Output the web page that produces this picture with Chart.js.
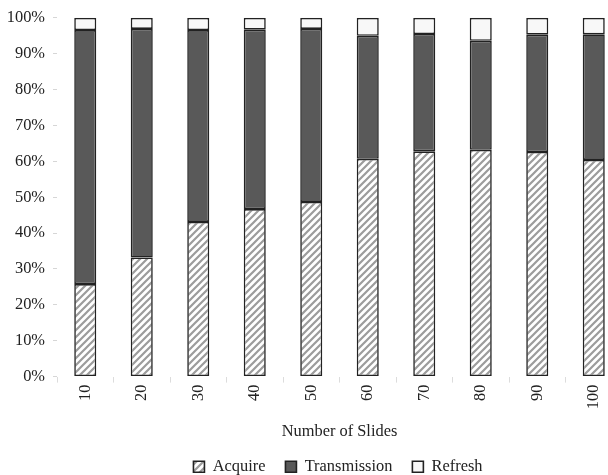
<!DOCTYPE html>
<html>
<head>
  <title>Number of Slides</title>
  <meta charset="utf-8" />
  <script src="https://cdn.jsdelivr.net/npm/chart.js"></script>
  <style>
    body {
      margin: 0;
      padding: 0;
      background: #fff;
      overflow: hidden;
    }
    canvas {
      display: block;
    }
  </style>
</head>
<body>
  <canvas id="chart" width="676" height="475"></canvas>

  <script>
    const slides = ["10", "20", "30", "40", "50", "60", "70", "80", "90", "100"];
    const acquire = [25.8, 33.2, 43.1, 46.7, 48.7, 60.7, 62.8, 63.2, 62.6, 60.4];
    const transmission = [70.8, 63.7, 53.5, 50.0, 48.2, 34.3, 32.7, 30.4, 32.7, 35.0];
    const refresh = [3.4, 3.1, 3.4, 3.3, 3.1, 5.0, 4.5, 6.4, 4.7, 4.6];

    // diagonal hatch for the Acquire series
    function hatch() {
      const n = 7;
      const c = document.createElement('canvas');
      c.width = n;
      c.height = n;
      const g = c.getContext('2d');
      g.fillStyle = '#fff';
      g.fillRect(0, 0, n, n);
      g.strokeStyle = '#9c9c9c';
      g.lineWidth = 2.2;
      g.beginPath();
      g.moveTo(0, n); g.lineTo(n, 0);
      g.moveTo(-2, 2); g.lineTo(2, -2);
      g.moveTo(n - 2, n + 2); g.lineTo(n + 2, n - 2);
      g.stroke();
      return g.createPattern(c, 'repeat');
    }

    const font = { family: "'Liberation Serif', 'Times New Roman', serif", size: 16.4 };
    const ctx = document.getElementById('chart').getContext('2d');

    const bar = {
      borderColor: '#222',
      borderWidth: 1.6,
      borderSkipped: false,
      categoryPercentage: 1,
      barPercentage: 0.39
    };

    new Chart(ctx, {
      type: 'bar',
      data: {
        labels: slides,
        datasets: [
          Object.assign({ label: 'Acquire', data: acquire, backgroundColor: hatch() }, bar),
          Object.assign({ label: 'Transmission', data: transmission, backgroundColor: '#595959' }, bar),
          Object.assign({ label: 'Refresh', data: refresh, backgroundColor: '#f8f8f8' }, bar)
        ]
      },
      options: {
        responsive: false,
        animation: false,
        layout: { padding: { top: 17, right: 0, bottom: -10, left: 0 } },
        plugins: {
          tooltip: { enabled: false },
          legend: {
            position: 'bottom',
            labels: {
              font: font,
              color: '#222',
              boxWidth: 11,
              boxHeight: 11,
              padding: 20
            }
          }
        },
        scales: {
          x: {
            stacked: true,
            border: { display: false },
            grid: { drawOnChartArea: false, tickLength: 6, color: '#dcdcdc' },
            ticks: { font: font, color: '#222', minRotation: 90, maxRotation: 90, padding: 2 },
            title: { display: true, text: 'Number of Slides', font: font, color: '#222', padding: { top: 0, bottom: -3 } },
            afterFit: (s) => { s.height = 62; }
          },
          y: {
            stacked: true,
            min: 0,
            max: 100,
            border: { display: false },
            grid: { drawOnChartArea: false, tickLength: 4, color: '#d6d6d6' },
            ticks: {
              stepSize: 10,
              font: font,
              color: '#222',
              padding: 8,
              callback: (v) => v + '%'
            },
            afterFit: (s) => { s.width = 57; }
          },
          // empty right axis: only reserves space so the plot and legend sit as in the original
          spacer: {
            position: 'right',
            border: { display: false },
            grid: { display: false },
            ticks: { display: false },
            afterFit: (s) => { s.width = 54; }
          }
        }
      }
    });
  </script>
</body>
</html>
